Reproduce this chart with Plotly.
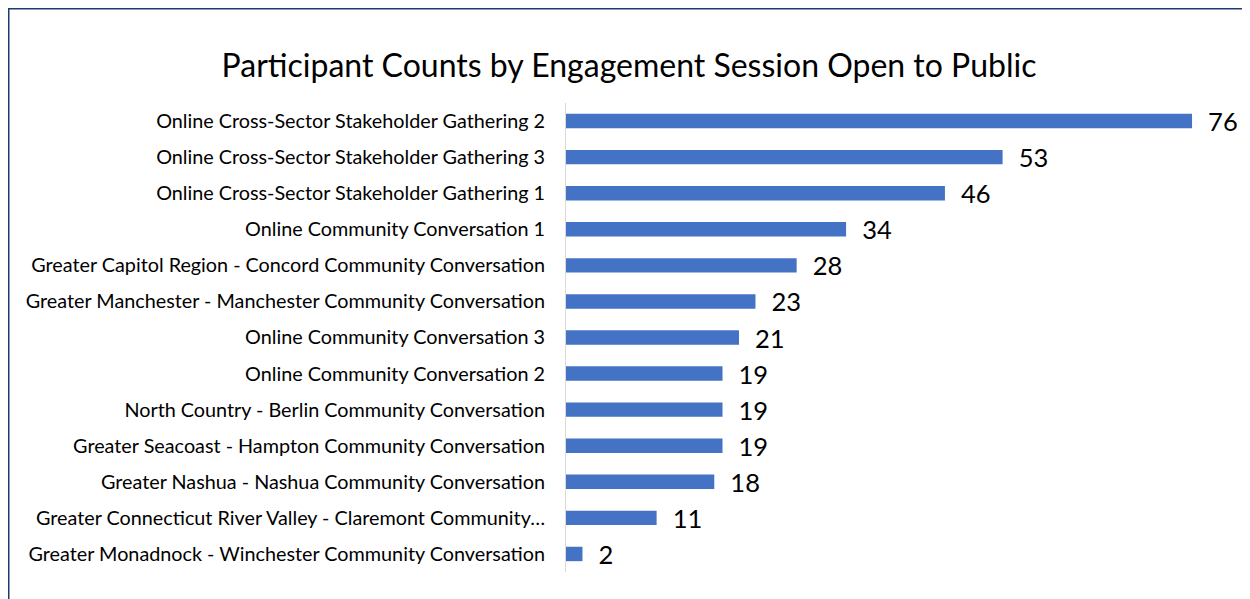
import plotly.graph_objects as go

categories = [
    "Online Cross-Sector Stakeholder Gathering 2",
    "Online Cross-Sector Stakeholder Gathering 3",
    "Online Cross-Sector Stakeholder Gathering 1",
    "Online Community Conversation 1",
    "Greater Capitol Region - Concord Community Conversation",
    "Greater Manchester - Manchester Community Conversation",
    "Online Community Conversation 3",
    "Online Community Conversation 2",
    "North Country - Berlin Community Conversation",
    "Greater Seacoast - Hampton Community Conversation",
    "Greater Nashua - Nashua Community Conversation",
    "Greater Connecticut River Valley - Claremont Community…",
    "Greater Monadnock - Winchester Community Conversation",
]
counts = [76, 53, 46, 34, 28, 23, 21, 19, 19, 19, 18, 11, 2]
title_text = "Participant Counts by Engagement Session Open to Public"

# page has an 8px body margin, so the figure is sized to fit the window
W, H = 1242, 591
L, R, T, B = 558, 25, 95, 27
pw, ph = W - L - R, H - T - B

fig = go.Figure(go.Bar(
    x=counts, y=categories, orientation="h",
    marker=dict(color="#4472C4", line=dict(width=0)),
    width=0.4,
    text=counts, texttemplate="  %{text}", textposition="outside",
    textfont=dict(size=25.5, color="#000000", family="Lato"),
    cliponaxis=False, constraintext="none",
))

fig.update_layout(
    width=W, height=H,
    margin=dict(l=L, r=R, t=T, b=B),
    paper_bgcolor="white", plot_bgcolor="white",
    font=dict(family="Lato", color="#000000"),
    title=dict(text=title_text, x=0.5, xanchor="center", y=1 - 58 / H, yanchor="middle",
               yref="container", font=dict(size=32, color="#000000", family="Lato")),
    showlegend=False,
    xaxis=dict(range=[0, 80], showgrid=False, showticklabels=False, zeroline=False,
               showline=False, fixedrange=True),
    yaxis=dict(autorange="reversed", showgrid=False, showline=True, linecolor="#D9D9D9",
               linewidth=1, ticks="", ticklabelstandoff=16,
               tickfont=dict(size=19.8, color="#000000", family="Lato")),
    shapes=[dict(type="rect", xref="paper", yref="paper",
                 x0=(0.5 - L) / pw, x1=(W + 20 - L) / pw,
                 y0=(ph + T - (H + 20)) / ph, y1=(ph + T - 0.5) / ph,
                 line=dict(color="#1F3A6E", width=2), fillcolor="rgba(0,0,0,0)", layer="above")],
)
fig.write_html("out.html")
